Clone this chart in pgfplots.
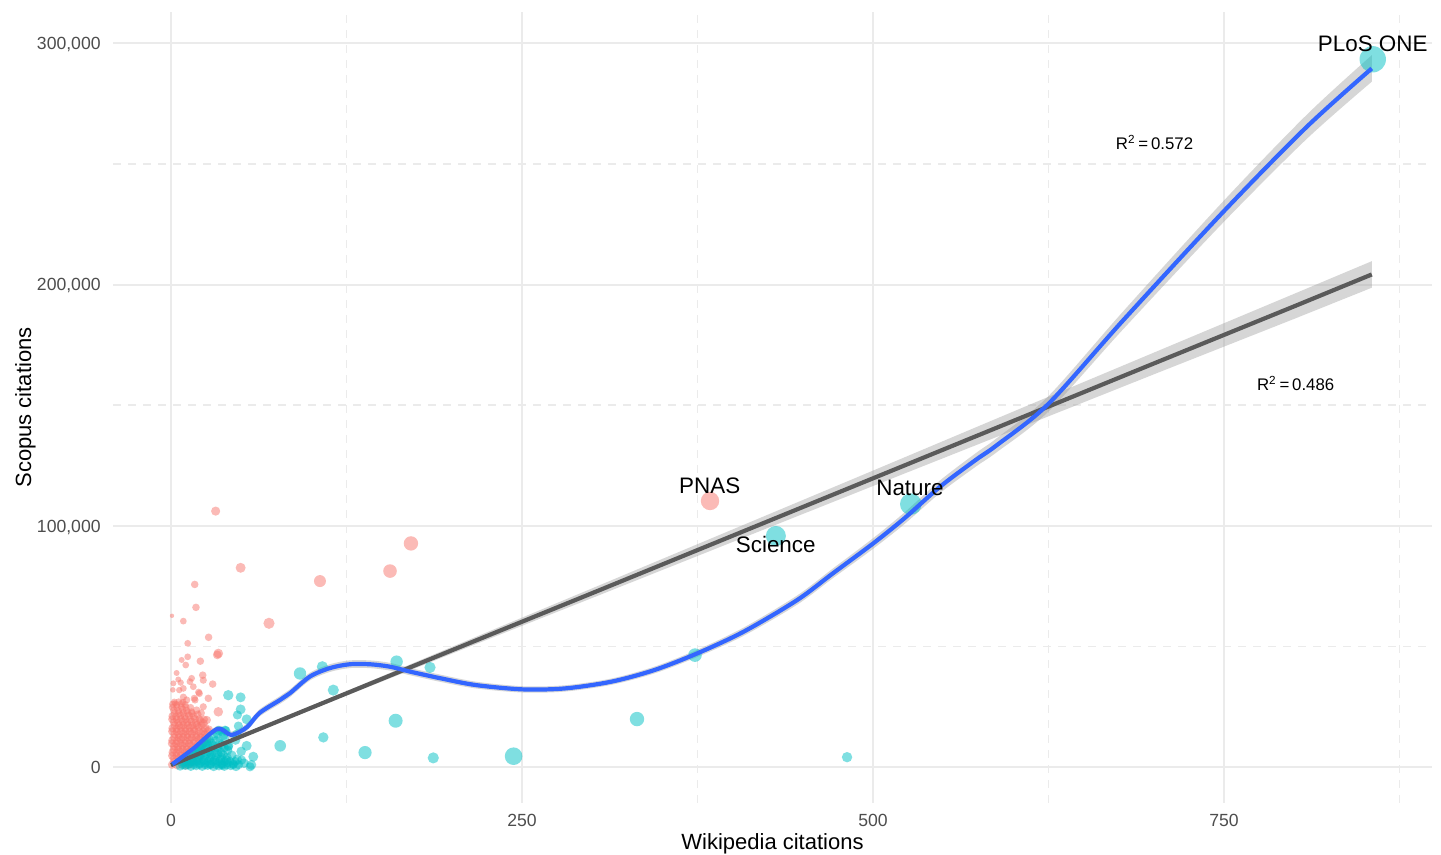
\documentclass[border=0pt]{standalone}
\usepackage{fontspec}
\setmainfont{Liberation Sans}
\usepackage{pgfplots}
\pgfplotsset{compat=1.18}
\usepackage{pgfplotstable}
\usepgfplotslibrary{fillbetween}
\usetikzlibrary{calc}

\definecolor{ggred}{HTML}{F8766D}
\definecolor{ggteal}{HTML}{00BFC4}
\definecolor{ggblue}{HTML}{3366FF}
\definecolor{fitgray}{HTML}{5A5A5A}
\definecolor{ribbon}{HTML}{999999}
\definecolor{gridc}{HTML}{EBEBEB}
\definecolor{tickc}{HTML}{4D4D4D}

% journals, group 1 (x = Wikipedia citations, y = Scopus citations, r = point radius in pt)
\pgfplotstableread{
x y r
0.8 1000 2.1
4.2 800 2.1
7.5 1300 2.1
10.6 700 2.1
13.8 1200 2.1
2.1 3400 2.1
5.4 3700 2.1
8.7 3200 2.1
11.9 3900 2.1
15.1 3300 2.1
1.2 6100 2.1
3.8 5800 2.1
6.6 6400 2.1
9.8 5900 2.1
12.7 6300 2.1
16.2 5700 2.1
19.0 6600 2.1
2.3 8600 2.1
5.1 8300 2.1
8.2 8900 2.1
11.3 8400 2.1
14.4 8800 2.1
17.6 8200 2.1
20.8 9000 2.1
1.0 11100 2.1
4.3 10800 2.1
7.2 11400 2.1
10.4 10900 2.1
13.3 11300 2.1
16.5 10700 2.1
19.7 11600 2.1
22.6 11000 2.1
2.6 13600 2.1
5.7 13300 2.1
8.8 13900 2.1
11.8 13400 2.1
14.9 13800 2.1
18.1 13200 2.1
21.3 14100 2.1
24.2 13500 2.1
1.1 16100 2.1
4.0 15800 2.1
7.1 16400 2.1
10.2 15900 2.1
13.4 16300 2.1
16.3 15700 2.1
19.5 16600 2.1
24.4 16200 2.2
2.2 18600 2.1
5.3 18300 2.1
8.4 18900 2.1
11.5 18400 2.1
14.6 18800 2.1
17.8 18200 2.1
21.0 19000 2.1
1.0 21100 2.0
3.6 20800 2.0
6.7 21400 2.0
9.6 20900 2.0
12.8 21300 2.0
16.2 21000 2.0
19.0 21800 2.0
2.1 23600 1.9
5.2 23300 1.9
8.3 23900 1.9
11.2 23400 1.9
18.3 23600 1.9
1.2 26100 1.8
4.1 25800 1.8
7.3 26300 1.8
10.1 25900 1.8
2.5 2200 2.1
6.0 2200 2.1
9.2 2300 2.1
12.4 2100 2.1
15.6 2200 2.1
18.5 2400 2.1
0.9 4700 2.1
3.9 4600 2.1
7.0 4800 2.1
10.3 4700 2.1
13.5 4600 2.1
17.0 4800 2.1
20.2 4700 2.1
2.0 7300 2.1
5.1 7200 2.1
8.3 7400 2.1
11.2 7300 2.1
14.3 7200 2.1
17.8 7400 2.1
21.5 7300 2.1
0.7 9800 2.1
3.6 9700 2.1
6.6 9900 2.1
9.7 9800 2.1
12.9 9700 2.1
16.0 9900 2.1
19.3 9800 2.1
22.8 9700 2.1
2.4 12300 2.1
5.5 12200 2.1
8.6 12400 2.1
11.7 12300 2.1
14.8 12200 2.1
17.9 12400 2.1
21.0 12300 2.1
24.3 12200 2.1
0.9 14800 2.1
4.1 14700 2.1
7.2 14900 2.1
10.3 14800 2.1
13.4 14700 2.1
16.6 14900 2.1
19.8 14800 2.1
23.0 14700 2.1
26.0 14900 2.1
2.7 17300 2.1
5.8 17200 2.1
8.9 17400 2.1
12.0 17300 2.1
15.2 17200 2.1
18.4 17400 2.1
21.8 17300 2.1
0.8 19800 2.0
4.0 19700 2.0
7.1 19900 2.0
10.3 19800 2.0
13.6 19700 2.0
17.0 19900 2.0
20.3 19800 2.0
23.6 19700 2.0
2.5 22300 1.9
5.6 22200 1.9
8.7 22400 1.9
11.9 22300 1.9
15.0 22200 1.9
21.5 22400 1.9
1.0 24800 1.8
4.2 24700 1.8
7.4 24900 1.8
10.6 24800 1.8
14.0 24700 1.8
2.4 27000 1.7
5.5 27100 1.7
8.6 26900 1.7
25.5 19500 2.1
27.0 15500 2.1
26.0 11500 2.1
23.0 18100 2.3
33.7 22900 2.4
16.6 28500 1.8
26.6 28500 1.9
23.0 25000 1.8
14.7 22900 1.8
8.8 29000 1.8
11.2 27800 1.8
17.1 27800 1.8
2.8 26400 1.6
5.9 31900 1.6
1.3 32000 1.4
8.8 32600 1.7
19.7 31000 1.8
20.2 30500 1.8
15.9 33300 1.7
29.7 34400 1.9
1.7 34700 1.5
6.9 35000 1.6
13.5 35400 1.7
5.2 36300 1.5
14.7 36800 1.7
23.0 36000 1.8
22.6 38100 1.9
4.0 39000 1.5
10.5 42300 1.7
20.9 43900 1.9
7.6 44400 1.5
11.9 45700 1.7
33.0 46500 2.2
33.7 47100 2.4
11.9 51300 1.7
26.8 53800 1.9
8.8 60500 1.7
0.7 62700 1.1
17.8 66200 1.9
16.9 75700 1.9
69.8 59600 2.8
106.1 77100 3.0
49.6 82600 2.5
156.0 81250 3.4
170.9 92700 3.6
31.8 106100 2.3
383.9 110300 4.6
}\redpts

% journals, group 2
\pgfplotstableread{
x y r
6.5 300 2.2
10.2 600 2.2
14.1 200 2.2
18.0 500 2.2
22.3 300 2.3
26.1 700 2.3
30.4 200 2.3
34.2 500 2.3
38.0 300 2.3
42.5 600 2.3
46.3 200 2.3
9.0 1700 2.2
12.8 1400 2.2
16.5 1900 2.2
20.4 1500 2.3
24.3 1800 2.3
28.2 1300 2.3
32.1 1900 2.3
36.3 1500 2.3
40.2 1800 2.3
44.4 1400 2.3
52.0 1600 2.4
11.2 3100 2.2
15.3 2800 2.2
19.1 3300 2.3
23.2 2900 2.3
27.4 3400 2.3
31.0 2900 2.3
35.2 3300 2.3
39.4 3000 2.3
47.1 3200 2.4
14.0 4800 2.2
17.6 5300 2.3
21.4 4900 2.3
25.3 5400 2.3
29.1 5000 2.3
33.4 5500 2.3
37.2 5100 2.3
43.3 4900 2.4
17.5 6900 2.3
20.1 6800 2.3
24.3 7300 2.3
28.2 6900 2.3
34.0 7200 2.3
40.3 7000 2.4
50.0 6500 2.4
20.5 8600 2.3
22.4 8800 2.3
26.3 9300 2.3
30.1 9000 2.3
36.2 9200 2.4
41.0 8900 2.4
25.5 10600 2.3
27.2 11400 2.3
32.0 11000 2.3
38.3 11300 2.4
46.0 11200 2.4
30.5 12800 2.3
33.1 13500 2.3
37.2 13100 2.4
47.0 13600 2.4
34.0 15200 2.3
39.0 15000 2.4
38.5 15300 2.3
36.1 14600 2.3
8.3 1000 2.3
12.1 1000 2.3
16.3 1000 2.3
20.0 1000 2.3
24.2 1000 2.3
28.0 1000 2.3
32.2 1000 2.3
36.0 1000 2.3
40.1 1000 2.3
44.3 1000 2.3
48.2 1000 2.3
10.6 2300 2.3
14.5 2300 2.3
18.3 2300 2.3
22.1 2300 2.3
26.2 2300 2.3
30.0 2300 2.3
34.1 2300 2.3
38.2 2300 2.3
42.0 2300 2.3
45.8 2300 2.3
12.6 4000 2.3
16.3 4000 2.3
20.3 4000 2.3
24.1 4000 2.3
28.3 4000 2.3
32.0 4000 2.3
36.1 4000 2.3
40.0 4000 2.3
15.8 6000 2.3
19.8 6000 2.3
23.6 6000 2.3
27.6 6000 2.3
31.5 6000 2.3
35.7 6000 2.3
21.0 8000 2.3
25.0 8000 2.3
29.0 8000 2.3
33.0 8000 2.3
38.0 8000 2.3
24.0 10000 2.3
28.5 10000 2.3
34.5 10000 2.3
36.8 800 2.3
56.3 100 2.3
57.2 900 2.5
50.3 2900 2.3
58.6 4300 2.5
40.8 8400 2.3
53.9 8800 2.5
48.0 17000 2.3
53.9 19800 2.5
47.3 21600 2.3
49.6 23900 2.5
49.6 28900 2.5
40.8 29800 2.6
77.8 8800 2.9
91.9 38800 3.1
107.8 41600 2.8
115.6 31900 2.8
108.5 12300 2.6
138.2 6000 3.3
160.7 43700 3.1
160.0 19200 3.5
184.5 41300 2.8
186.8 3800 2.8
244.0 4500 4.4
331.9 19900 3.6
373.2 46400 3.4
481.5 4100 2.6
430.8 95800 5.0
526.9 109000 5.4
855.9 293400 6.6
}\tealpts

% linear fit with its confidence band
\pgfplotstableread{
x y lo hi
0 800 200 1400
100 24600 23800 25400
200 48400 47000 49800
300 72100 70100 74100
400 95900 93300 98500
500 119700 116500 122900
600 143500 139600 147400
700 167300 162800 171800
800 191000 185800 196200
855.2 204200 198700 209700
}\linfit

% loess fit with its confidence band
\pgfplotstableread{
x y lo hi
1 1200 200 2200
16 7700 6600 8800
33 15800 14500 17100
43 13300 11900 14700
54 16500 15000 18000
63 22400 20900 23900
77.6 27800 26200 29400
84.7 30600 29000 32200
98.9 37500 35900 39100
113 41000 39400 42600
127 42600 41000 44200
142 42600 41000 44200
156 41600 40000 43200
170 39600 38100 41100
184 37800 36300 39300
192 36800 35300 38300
217 34000 32600 35400
250.6 32200 30900 33500
280.6 32600 31300 33900
313.7 35400 34100 36700
344.2 40200 38800 41600
374.7 47100 45600 48600
407.8 56100 54400 57800
445.9 69200 67300 71100
471.4 80300 78300 82300
500.1 92700 90500 94900
522.3 103100 100700 105500
547.7 116200 113600 118800
573.1 127300 124500 130100
588.3 133500 130600 136400
624.8 150500 147300 153700
678.3 185300 181600 189000
749.5 230200 225800 234600
808.9 265400 260400 270400
855.2 289600 284100 295100
}\loess

\pgfplotsset{
  bubble/.style={scatter, only marks, mark=*, point meta=\thisrow{r},
    scatter/use mapped color={draw=#1, draw opacity=0, fill=#1, fill opacity=0.5},
    mark options={draw opacity=0, fill opacity=0.5},
    visualization depends on={\thisrow{r}\as\rr},
    scatter/@pre marker code/.append style={/tikz/mark size=\rr}},
}

\begin{document}
\begin{tikzpicture}
\begin{axis}[
  scale only axis, width=659.5pt, height=395.5pt,
  xmin=-41.3, xmax=898.1, ymin=-14900, ymax=313000,
  clip=false, clip marker paths=true,
  axis line style={draw=none},
  major tick length=0pt, minor tick length=0pt,
  scaled y ticks=false,
  xtick={0,250,500,750}, xticklabels={0,250,500,750},
  minor xtick={125,375,625,875},
  ytick={0,100000,200000,300000}, yticklabels={0,{100,000},{200,000},{300,000}},
  minor ytick={50000,150000,250000},
  grid=both,
  major grid style={gridc, line width=1pt},
  minor grid style={gridc, line width=0.8pt, dash pattern=on 4pt off 3.5pt},
  tick label style={font=\fontsize{8.8}{10}\selectfont, text=tickc, inner sep=0pt},
  xticklabel style={anchor=north, yshift=-5.2pt},
  yticklabel style={anchor=base east, xshift=-6pt, yshift=-3.15pt},
  xlabel={Wikipedia citations}, ylabel={Scopus citations},
  label style={font=\fontsize{11}{13}\selectfont, inner sep=0pt},
  xlabel style={at={(axis description cs:0.5,-0.0512)}, anchor=center},
  ylabel style={at={(axis description cs:-0.0663,0.5)}, anchor=center},
]
\addplot[bubble=ggred] table {\redpts};
\addplot[bubble=ggteal] table {\tealpts};

\addplot[name path=llo, draw=none] table[x=x, y=lo] {\linfit};
\addplot[name path=lhi, draw=none] table[x=x, y=hi] {\linfit};
\addplot[ribbon, fill opacity=0.4, draw=none] fill between[of=llo and lhi];

\addplot[name path=slo, draw=none, smooth, tension=0.5] table[x=x, y=lo] {\loess};
\addplot[name path=shi, draw=none, smooth, tension=0.5] table[x=x, y=hi] {\loess};
\addplot[ribbon, fill opacity=0.4, draw=none] fill between[of=slo and shi];

\addplot[fitgray, line width=2.1pt] table[x=x, y=y] {\linfit};
\addplot[ggblue, line width=2.1pt, smooth, tension=0.5] table[x=x, y=y] {\loess};

\node[font=\fontsize{11.2}{13}\selectfont, inner sep=0pt] at (axis cs:855.9,299900) {PLoS ONE};
\node[font=\fontsize{11.2}{13}\selectfont, inner sep=0pt] at (axis cs:383.7,116800) {PNAS};
\node[font=\fontsize{11.2}{13}\selectfont, inner sep=0pt] at (axis cs:430.7,92200) {Science};
\node[font=\fontsize{11.2}{13}\selectfont, inner sep=0pt] at (axis cs:526.3,115700) {Nature};
\node[font=\fontsize{8.4}{10}\selectfont, inner sep=0pt, anchor=base] at (axis cs:700.5,256100) {R\textsuperscript{2}\,=\,0.572};
\node[font=\fontsize{8.4}{10}\selectfont, inner sep=0pt, anchor=base] at (axis cs:801,156300) {R\textsuperscript{2}\,=\,0.486};
\end{axis}
\pgfresetboundingbox
\path ($(current axis.south west)+(-56.5pt,-25.5pt)$) rectangle ($(current axis.north east)+(4.5pt,6pt)$);
\end{tikzpicture}
\end{document}
